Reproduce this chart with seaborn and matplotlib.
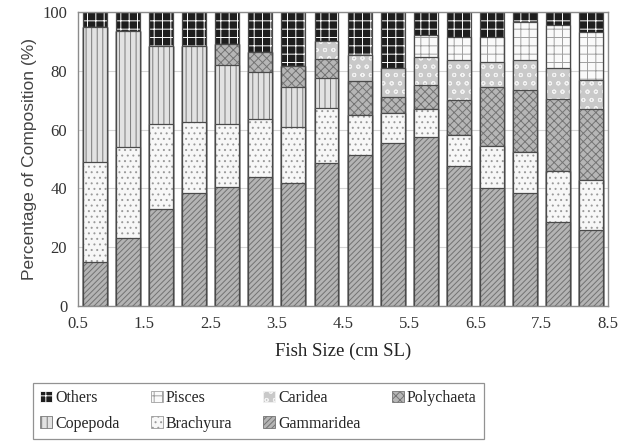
import numpy as np
import pandas as pd
import matplotlib
matplotlib.use('Agg')
import matplotlib.pyplot as plt
from matplotlib.patches import Patch
import seaborn as sns

# size classes (lower edge of each 0.5 cm class)
size_class = [0.5, 1.0, 1.5, 2.0, 2.5, 3.0, 3.5, 4.0, 4.5, 5.0, 5.5, 6.0, 6.5, 7.0, 7.5, 8.0]
tick_labels = ['0.5', '1.5', '2.5', '3.5', '4.5', '5.5', '6.5', '7.5', '8.5']

# percentage composition per prey group (bottom -> top of each bar)
gammaridea = [15, 23, 33, 38.5, 40.5, 44, 42, 48.5, 51.5, 55.5, 57.5, 47.5, 40, 38.5, 28.5, 26]
brachyura = [34, 31, 29, 24, 21.5, 19.5, 19, 19, 13.5, 10, 9.5, 10.5, 14.5, 14, 17.5, 17]
copepoda = [46, 39.5, 26.5, 26, 20, 16, 13.5, 10, 0, 0, 0, 0, 0, 0, 0, 0]
polychaeta = [0, 0, 0, 0, 7, 7, 7, 6.5, 11.5, 5.5, 8, 12, 20, 21, 24.5, 24]
caridea = [0, 0, 0, 0, 0, 0, 0, 6, 9, 10, 9.5, 13.5, 8.5, 10, 10.5, 10]
pisces = [0, 0, 0, 0, 0, 0, 0, 0, 0, 0, 7.5, 8, 8.5, 13, 14.5, 16]
others = [5, 6.5, 11.5, 11.5, 11, 13.5, 18.5, 10, 14.5, 19, 8, 8.5, 8.5, 3.5, 4.5, 7]

groups = ['Gammaridea', 'Brachyura', 'Copepoda', 'Polychaeta', 'Caridea', 'Pisces', 'Others']
df = pd.DataFrame({'size': [str(s) for s in size_class],
                   'Gammaridea': gammaridea, 'Brachyura': brachyura, 'Copepoda': copepoda,
                   'Polychaeta': polychaeta, 'Caridea': caridea, 'Pisces': pisces, 'Others': others})

# look of each group (face, hatch, hatch colour)
styles = {
    'Gammaridea': ('#b4b4b4', '//////', '#727272'),
    'Brachyura': ('#f7f7f7', '...', '#9a9a9a'),
    'Copepoda': ('#e2e2e2', '|||', '#7a7a7a'),
    'Polychaeta': ('#b6b6b6', 'xxxx', '#747474'),
    'Caridea': ('#c9c9c9', 'oo', '#f2f2f2'),
    'Pisces': ('#fafafa', '++', '#a0a0a0'),
    'Others': ('#1e1e1e', '++', '#ffffff'),
}
outline = '#4a4a4a'

sns.set_theme(style='white')
plt.rcParams['font.family'] = ['Liberation Serif', 'DejaVu Serif']
plt.rcParams['hatch.linewidth'] = 0.7

fig = plt.figure(figsize=(6.26, 4.41), dpi=100)
ax = fig.add_axes([0.125, 0.306, 0.846, 0.667])

# stacked bars: draw cumulative totals from the top group down so each layer covers the one above
cum = df[groups].cumsum(axis=1)
for g in reversed(groups):
    face, hatch, hcol = styles[g]
    sns.barplot(x=df['size'], y=cum[g], color=face, saturation=1, width=0.72,
                errorbar=None, hatch=hatch, edgecolor=hcol, linewidth=0, ax=ax)
    # segment outline
    sns.barplot(x=df['size'], y=cum[g], fill=False, width=0.72, errorbar=None,
                edgecolor=outline, linewidth=0.9, ax=ax)

ax.set_xlim(-0.5, len(size_class) - 0.5)
ax.set_ylim(0, 100)
ax.set_xticks(np.arange(-0.5, len(size_class), 2))
ax.set_xticklabels(tick_labels)
ax.set_xticks(np.arange(-0.5, len(size_class), 1), minor=True)
ax.set_yticks([0, 20, 40, 60, 80, 100])
ax.tick_params(axis='both', which='both', direction='in', labelsize=12, colors='#333333')
ax.tick_params(axis='y', length=4, width=0.8, pad=8)
ax.tick_params(axis='x', which='both', length=3, width=0.8, pad=7)
ax.yaxis.grid(True, color='#d4d4d4', linewidth=0.8)
ax.set_axisbelow(True)
for s in ax.spines.values():
    s.set_color('#8c8c8c')
    s.set_linewidth(1.0)

ax.set_xlabel('Fish Size (cm SL)', fontsize=13.5, color='#222222', labelpad=8)
ax.set_ylabel('Percentage of Composition (%)', fontsize=12.5, color='#444444',
              family=['Liberation Sans', 'DejaVu Sans'], labelpad=4)

# legend, column-major so it reads Others, Pisces, Caridea, Polychaeta / Copepoda, Brachyura, Gammaridea
leg_order = ['Others', 'Copepoda', 'Pisces', 'Brachyura', 'Caridea', 'Gammaridea', 'Polychaeta']
handles = [Patch(facecolor=styles[g][0], hatch=styles[g][1], edgecolor=styles[g][2],
                 linewidth=0.6, label=g) for g in leg_order]
leg = fig.legend(handles=handles, ncol=4, loc='lower left', mode='expand',
                 bbox_to_anchor=(0.053, 0.005, 0.72, 0.128), borderaxespad=0,
                 fontsize=11.5, frameon=True, fancybox=False, edgecolor='#777777',
                 handlelength=0.75, handleheight=0.75, handletextpad=0.2,
                 borderpad=0.45, labelspacing=0.6, columnspacing=1.0)
leg.get_frame().set_linewidth(0.9)

fig.savefig('out.png', dpi=100)
